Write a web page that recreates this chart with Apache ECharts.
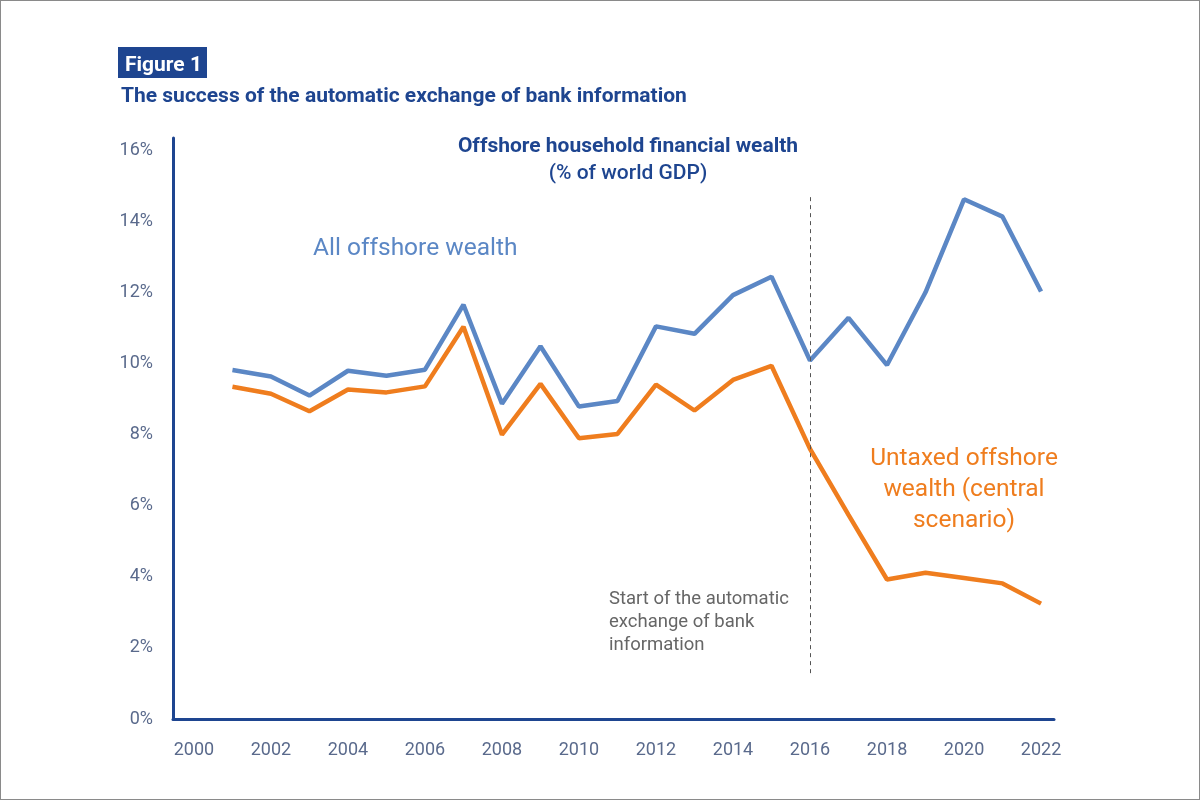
<!DOCTYPE html>
<html>
<head>
<meta charset="utf-8">
<script src="https://cdn.jsdelivr.net/npm/echarts@6/dist/echarts.min.js"></script>
<style>
html,body{margin:0;padding:0;background:#fff;}
#chart{width:1198px;height:798px;border:1px solid #8a8a8a;}
</style>
</head>
<body>
<div id="chart"></div>
<script>
const years = [2001,2002,2003,2004,2005,2006,2007,2008,2009,2010,2011,2012,2013,2014,2015,2016,2017,2018,2019,2020,2021,2022];
const allOffshore = [9.83,9.65,9.11,9.81,9.67,9.84,11.67,8.88,10.50,8.80,8.96,11.06,10.85,11.94,12.46,10.10,11.30,9.97,12.02,14.64,14.15,12.04];
const untaxed = [9.36,9.16,8.67,9.28,9.20,9.37,11.05,8.01,9.44,7.91,8.03,9.42,8.69,9.55,9.95,7.61,5.75,3.93,4.12,3.97,3.82,3.25];
const xTicks = [2000,2002,2004,2006,2008,2010,2012,2014,2016,2018,2020,2022];
const yTicks = [0,2,4,6,8,10,12,14,16];
const aeoiYear = 2016;

const blue = '#5b87c5';
const orange = '#ef7d1e';
const navy = '#1e4590';
const tickColor = '#5a6a8c';

const chart = echarts.init(document.getElementById('chart'));
chart.setOption({
  animation: false,
  textStyle: {fontFamily: 'Roboto'},
  title: [
    {text: 'Figure 1', left: 119, top: 49, textStyle: {color: '#fff', fontSize: 21, fontWeight: 'bold', fontFamily: 'Roboto'}},
    {text: 'The success of the automatic exchange of bank information', left: 115, top: 80, textStyle: {color: navy, fontSize: 21, fontWeight: 'bold', fontFamily: 'Roboto'}},
    {text: 'Offshore household financial wealth', left: 622, top: 130, textAlign: 'center', textStyle: {color: navy, fontSize: 21, fontWeight: 'bold', fontFamily: 'Roboto'}},
    {text: '(% of world GDP)', left: 622, top: 157, textAlign: 'center', textStyle: {color: navy, fontSize: 21, fontWeight: 500, fontFamily: 'Roboto'}}
  ],
  graphic: [
    {type: 'rect', left: 117, top: 46, shape: {width: 89, height: 31}, style: {fill: navy}, z: 0},
    {type: 'text', left: 312, top: 235, style: {text: 'All offshore wealth', fill: blue, font: '24.5px Roboto'}},
    {type: 'text', x: 963, y: 442, style: {text: 'Untaxed offshore\nwealth (central\nscenario)', fill: orange, font: '24.5px Roboto', align: 'center', lineHeight: 31}},
    {type: 'text', left: 608, top: 587, style: {text: 'Start of the automatic\nexchange of bank\ninformation', fill: '#666', font: '18.5px Roboto', lineHeight: 23}}
  ],
  grid: {left: 172, right: 145, top: 137, bottom: 80},
  xAxis: {
    type: 'value', min: 1999.456, max: 2022.337,
    axisLine: {show: true, onZero: false, lineStyle: {color: navy, width: 3}},
    axisTick: {show: false},
    splitLine: {show: false},
    axisLabel: {customValues: xTicks, color: tickColor, fontSize: 18, margin: 22, fontFamily: 'Roboto', formatter: v => String(v)}
  },
  yAxis: {
    type: 'value', min: 0, max: 16.366,
    axisLine: {show: true, lineStyle: {color: navy, width: 3}},
    axisTick: {show: false},
    splitLine: {show: false},
    axisLabel: {customValues: yTicks, color: tickColor, fontSize: 18, margin: 20, fontFamily: 'Roboto', formatter: v => v + '%'}
  },
  series: [
    {
      type: 'line', name: 'All offshore wealth', data: years.map((y,i)=>[y, allOffshore[i]]),
      showSymbol: false, lineStyle: {color: blue, width: 4.5}, itemStyle: {color: blue}, z: 3,
      markLine: {
        silent: true, symbol: 'none', label: {show: false},
        lineStyle: {color: '#555', type: [4,4], width: 1},
        data: [[{coord: [aeoiYear, 14.7]}, {coord: [aeoiYear, 1.25]}]]
      }
    },
    {
      type: 'line', name: 'Untaxed offshore wealth', data: years.map((y,i)=>[y, untaxed[i]]),
      showSymbol: false, lineStyle: {color: orange, width: 4.5}, itemStyle: {color: orange}, z: 4
    }
  ]
});
</script>
</body>
</html>
